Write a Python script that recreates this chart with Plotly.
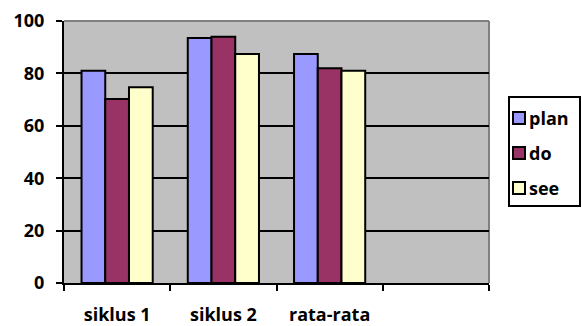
import plotly.graph_objects as go

# Scores per cycle; the fourth slot on the category axis is intentionally empty
categories = ["siklus 1", "siklus 2", "rata-rata", " "]
plan = [81.0, 93.5, 87.4, None]
do = [70.2, 94.0, 82.0, None]
see = [74.7, 87.4, 81.0, None]

series_names = ["plan", "do", "see"]
series_values = [plan, do, see]
series_colors = ["#9999FF", "#993366", "#FFFFCC"]

FONT = "Open Sans"
W, H = 582, 326
L, R, T, B = 64, 93, 21, 43
PW, PH = W - L - R, H - T - B


def px_x(px):
    return (px - L) / PW


def px_y(py):
    return (H - B - py) / PH


fig = go.Figure()
for name, vals, color in zip(series_names, series_values, series_colors):
    fig.add_trace(go.Bar(
        x=categories, y=vals, name=name,
        marker=dict(color=color, line=dict(color="black", width=2)),
    ))

fig.update_layout(
    width=W, height=H,
    margin=dict(l=L, r=R, t=T, b=B, autoexpand=False),
    paper_bgcolor="white",
    plot_bgcolor="#C0C0C0",
    barmode="group",
    bargap=0.33,
    bargroupgap=0,
    font=dict(family=FONT, size=18, color="black", weight="bold"),
    showlegend=False,
)

fig.update_xaxes(
    type="category",
    categoryorder="array", categoryarray=categories,
    range=[-0.5, 3.5],
    automargin=False,
    showline=True, linecolor="black", linewidth=2,
    ticks="outside", tickson="boundaries", ticklen=6, tickwidth=2, tickcolor="black",
    ticklabelstandoff=14,
    tickfont=dict(family=FONT, size=18, color="black", weight="bold"),
    showgrid=False,
)

fig.update_yaxes(
    range=[0, 100], dtick=20,
    automargin=False,
    showline=True, linecolor="black", linewidth=2,
    ticks="outside", ticklen=6, tickwidth=2, tickcolor="black",
    ticklabelstandoff=8,
    tickfont=dict(family=FONT, size=18, color="black", weight="bold"),
    showgrid=True, gridcolor="black", gridwidth=2,
    zeroline=False,
)

# Grey frame on the top and right of the plot area
fig.add_shape(type="line", xref="paper", yref="paper", x0=0, x1=1, y0=1, y1=1,
              line=dict(color="#808080", width=2), layer="below")
fig.add_shape(type="line", xref="paper", yref="paper", x0=1, x1=1, y0=0, y1=1,
              line=dict(color="#808080", width=2), layer="below")

# Legend box with square swatches
fig.add_shape(type="rect", xref="paper", yref="paper",
              x0=px_x(509), x1=px_x(580), y0=px_y(97), y1=px_y(206),
              line=dict(color="black", width=2), fillcolor="white")
row_y = [118, 153, 188]
for name, color, cy in zip(series_names, series_colors, row_y):
    fig.add_shape(type="rect", xref="paper", yref="paper",
                  x0=px_x(513), x1=px_x(525), y0=px_y(cy + 6), y1=px_y(cy - 6),
                  line=dict(color="black", width=2), fillcolor=color)
    fig.add_annotation(xref="paper", yref="paper", x=px_x(527), y=px_y(cy),
                       text=name, showarrow=False, xanchor="left", yanchor="middle",
                       font=dict(family=FONT, size=18, color="black", weight="bold"))

fig.write_html("out.html")
